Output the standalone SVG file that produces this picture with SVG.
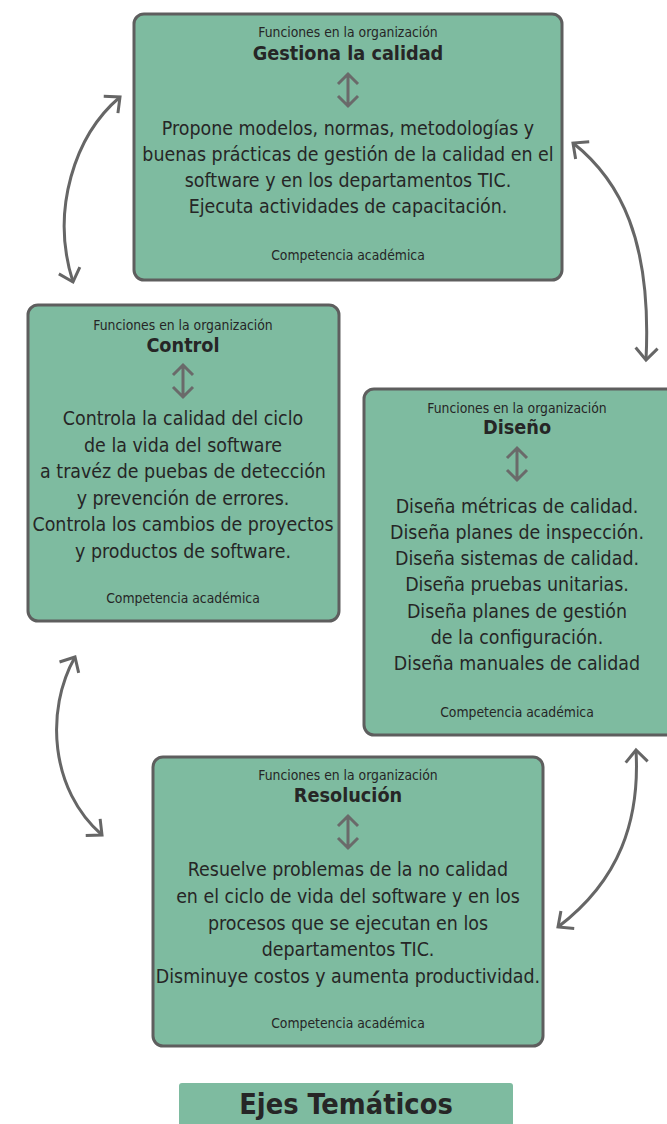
<svg xmlns="http://www.w3.org/2000/svg" xmlns:xlink="http://www.w3.org/1999/xlink" width="667" height="1124" viewBox="0 0 667 1124">
<style>
.box{fill:#7ebba0;stroke:#5e5e5e;stroke-width:3}
.t{font-family:"DejaVu Sans Condensed","DejaVu Sans",sans-serif;fill:#262626;text-anchor:middle}
.small{font-size:13.8px}
.head{font-size:19.7px;font-weight:bold}
.body{font-size:19.4px}
.conn{fill:none;stroke:#666;stroke-width:3}
.ico{fill:none;stroke:#6a6a6a;stroke-width:3}
</style>
<defs>
<marker id="ah" viewBox="-14 -14 28 28" markerWidth="28" markerHeight="28" markerUnits="userSpaceOnUse" refX="0" refY="0" orient="auto-start-reverse">
<path d="M-12,-11 L0,0 L-12,11" fill="none" stroke="#666" stroke-width="3"/>
</marker>
<path id="dbl" class="ico" d="M-10,10 L0,0 L10,10 M0,0 V32 M-10,22 L0,32 L10,22"/>
</defs>

<g id="connectors">
<path class="conn" d="M120 97 C75 135,50 210,73 282" marker-start="url(#ah)" marker-end="url(#ah)"/>
<path class="conn" d="M573 143 C620 180,652 240,646 360" marker-start="url(#ah)" marker-end="url(#ah)"/>
<path class="conn" d="M75 657 C45 710,50 790,102 835" marker-start="url(#ah)" marker-end="url(#ah)"/>
<path class="conn" d="M636 750 C640 820,620 880,558 927" marker-start="url(#ah)" marker-end="url(#ah)"/>
</g>

<g id="gestiona">
<rect class="box" x="134" y="14" width="428" height="266" rx="10"/>
<text class="t small" x="348" y="37">Funciones en la organización</text>
<text class="t head" x="348" y="60">Gestiona la calidad</text>
<use xlink:href="#dbl" x="348" y="74"/>
<text class="t body" x="348" y="135">Propone modelos, normas, metodologías y</text>
<text class="t body" x="348" y="161">buenas prácticas de gestión de la calidad en el</text>
<text class="t body" x="348" y="187">software y en los departamentos TIC.</text>
<text class="t body" x="348" y="213">Ejecuta actividades de capacitación.</text>
<text class="t small" x="348" y="260">Competencia académica</text>
</g>

<g id="control">
<rect class="box" x="28" y="305" width="311" height="316" rx="10"/>
<text class="t small" x="183" y="330">Funciones en la organización</text>
<text class="t head" x="183" y="352">Control</text>
<use xlink:href="#dbl" x="183" y="365"/>
<text class="t body" x="183" y="425">Controla la calidad del ciclo</text>
<text class="t body" x="183" y="452">de la vida del software</text>
<text class="t body" x="183" y="478">a travéz de puebas de detección</text>
<text class="t body" x="183" y="505">y prevención de errores.</text>
<text class="t body" x="183" y="531">Controla los cambios de proyectos</text>
<text class="t body" x="183" y="558">y productos de software.</text>
<text class="t small" x="183" y="603">Competencia académica</text>
</g>

<g id="diseno">
<rect class="box" x="364" y="389" width="312" height="346" rx="10"/>
<text class="t small" x="517" y="413">Funciones en la organización</text>
<text class="t head" x="517" y="434">Diseño</text>
<use xlink:href="#dbl" x="517" y="448"/>
<text class="t body" x="517" y="513">Diseña métricas de calidad.</text>
<text class="t body" x="517" y="539">Diseña planes de inspección.</text>
<text class="t body" x="517" y="565">Diseña sistemas de calidad.</text>
<text class="t body" x="517" y="591">Diseña pruebas unitarias.</text>
<text class="t body" x="517" y="618">Diseña planes de gestión</text>
<text class="t body" x="517" y="644">de la configuración.</text>
<text class="t body" x="517" y="670">Diseña manuales de calidad</text>
<text class="t small" x="517" y="717">Competencia académica</text>
</g>

<g id="resolucion">
<rect class="box" x="153" y="757" width="390" height="289" rx="10"/>
<text class="t small" x="348" y="780">Funciones en la organización</text>
<text class="t head" x="348" y="802">Resolución</text>
<use xlink:href="#dbl" x="348" y="816"/>
<text class="t body" x="348" y="876">Resuelve problemas de la no calidad</text>
<text class="t body" x="348" y="903">en el ciclo de vida del software y en los</text>
<text class="t body" x="348" y="930">procesos que se ejecutan en los</text>
<text class="t body" x="348" y="956">departamentos TIC.</text>
<text class="t body" x="348" y="983">Disminuye costos y aumenta productividad.</text>
<text class="t small" x="348" y="1028">Competencia académica</text>
</g>

<g id="titulo">
<rect x="179" y="1083" width="334" height="50" rx="3" fill="#7ebba0"/>
<text class="t" x="346" y="1114" style="font-size:28.7px;font-weight:bold">Ejes Temáticos</text>
</g>
</svg>
